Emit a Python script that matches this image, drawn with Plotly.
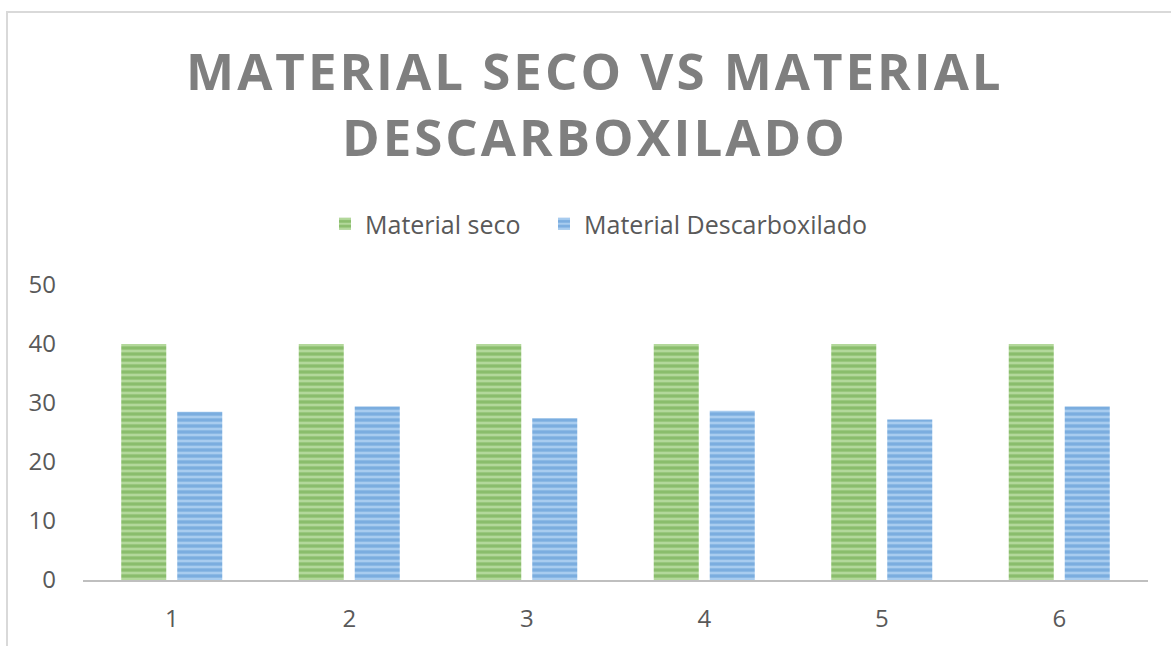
import plotly.graph_objects as go

categories = ["1", "2", "3", "4", "5", "6"]
material_seco = [40, 40, 40, 40, 40, 40]
material_descarboxilado = [28.5, 29.4, 27.4, 28.7, 27.2, 29.4]

fig = go.Figure()
fig.add_trace(go.Bar(
    x=categories, y=material_seco, name="Material seco", legend="legend",
    marker=dict(color="#8cc068", line=dict(width=0),
                pattern=dict(shape="-", fgcolor="#62a23d", bgcolor="#b3d89b", size=6, solidity=0.55)),
))
fig.add_trace(go.Bar(
    x=categories, y=material_descarboxilado, name="Material Descarboxilado", legend="legend2",
    marker=dict(color="#7fb0e0", line=dict(width=0),
                pattern=dict(shape="-", fgcolor="#4d8ecf", bgcolor="#a8ccef", size=6, solidity=0.55)),
))

title_text = ('<span style="letter-spacing:3px"><b>MATERIAL SECO VS MATERIAL</b></span><br>'
              '<span style="letter-spacing:3px"><b>DESCARBOXILADO</b></span>')

legend_common = dict(orientation="h", xanchor="left", xref="container",
                     y=1 - 224 / 646, yanchor="middle", yref="container",
                     font=dict(size=25, color="#595959"), bgcolor="rgba(0,0,0,0)")

fig.update_layout(
    width=1171, height=646,
    paper_bgcolor="white", plot_bgcolor="white",
    margin=dict(l=83, r=23, t=285, b=66, autoexpand=False),
    barmode="group", bargap=0.369, bargroupgap=0.196,
    font=dict(family="Open Sans", color="#595959", size=24),
    title=dict(text=title_text, x=0.508, xanchor="center", y=1 - 90 / 646, yanchor="top",
               font=dict(family="Open Sans", size=51, color="#7f7f7f")),
    legend=dict(x=325 / 1171, **legend_common),
    legend2=dict(x=544 / 1171, **legend_common),
    showlegend=True,
)
fig.update_xaxes(showline=True, linecolor="#bfbfbf", linewidth=2, showgrid=False, automargin=False,
                 ticks="", ticklabelstandoff=16, tickfont=dict(size=24, color="#595959"))
fig.update_yaxes(range=[0, 50], dtick=10, showline=False, showgrid=False, zeroline=False,
                 automargin=False,
                 ticks="", ticklabelstandoff=26, tickfont=dict(size=24, color="#595959"))

fig.add_shape(type="rect", xref="paper", yref="paper",
              x0=(7 - 83) / 1065, x1=1.2, y0=-0.5, y1=(580 - 12) / 295,
              line=dict(color="#d9d9d9", width=2), fillcolor="rgba(0,0,0,0)", layer="below")

fig.write_html("out.html")
